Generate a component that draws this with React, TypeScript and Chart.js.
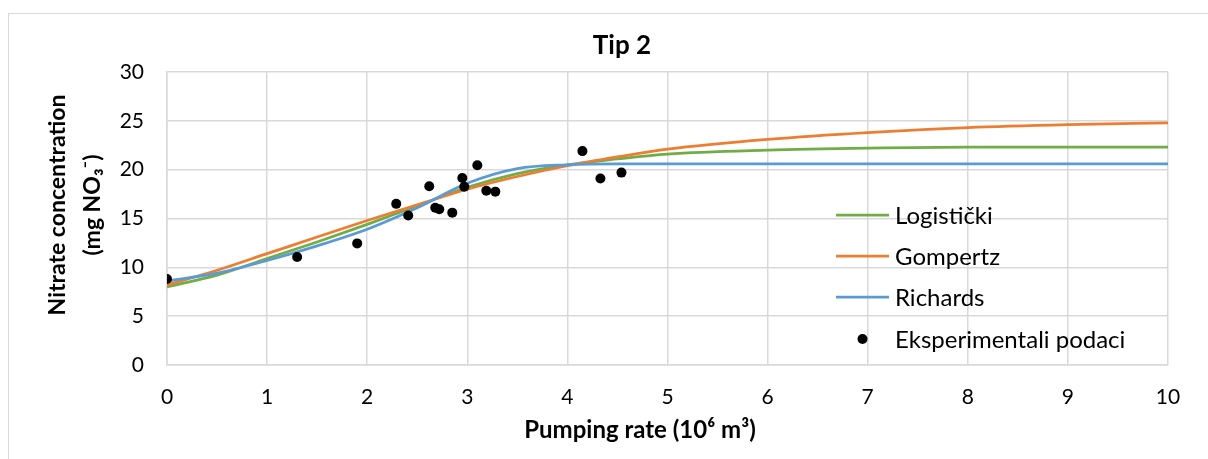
import React, { useEffect, useRef } from "react";
import { Chart, registerables } from "chart.js";

Chart.register(...registerables);

const chartTitle = "Tip 2";
const xAxisTitle = "Pumping rate (10\u2076 m\u00B3)";
const yAxisTitleLines = ["Nitrate concentration", "(mg NO\u2083\u207B)"];

const seriesNames = ["Logistički", "Gompertz", "Richards", "Eksperimentali podaci"];

const fitX = [0, 0.5, 1, 1.5, 2, 2.5, 3, 3.5, 4, 4.5, 5, 6, 7, 8, 9, 10];
const logistic = [8.0, 9.2, 10.9, 12.6, 14.4, 16.3, 18.2, 19.6, 20.5, 21.1, 21.6, 22.0, 22.2, 22.3, 22.3, 22.3];
const gompertz = [8.2, 9.7, 11.4, 13.1, 14.8, 16.4, 18.0, 19.3, 20.4, 21.3, 22.1, 23.1, 23.8, 24.3, 24.6, 24.8];
const richards = [8.6, 9.4, 10.7, 12.2, 13.9, 16.1, 18.6, 20.1, 20.5, 20.6, 20.6, 20.6, 20.6, 20.6, 20.6, 20.6];

const expX = [0, 1.3, 1.9, 2.29, 2.41, 2.62, 2.68, 2.72, 2.85, 2.95, 2.97, 3.1, 3.19, 3.28, 4.15, 4.33, 4.54];
const expY = [8.8, 11.05, 12.45, 16.5, 15.3, 18.3, 16.1, 15.95, 15.6, 19.15, 18.25, 20.45, 17.85, 17.75, 21.9, 19.1, 19.7];

const xTicks = [0, 1, 2, 3, 4, 5, 6, 7, 8, 9, 10];
const yTicks = [0, 5, 10, 15, 20, 25, 30];

const colors = ["#70AD47", "#ED7D31", "#5B9BD5", "#000000"];
const FONT = "Lato, 'Noto Sans', sans-serif";

export default function App() {
  const ref = useRef<HTMLCanvasElement | null>(null);

  useEffect(() => {
    const canvas = ref.current;
    if (!canvas) return;

    const textPlugin = {
      id: "customText",
      afterDraw(chart: any) {
        const ctx = chart.ctx as CanvasRenderingContext2D;
        ctx.save();
        ctx.fillStyle = "#000";
        // title
        ctx.font = `bold 26px ${FONT}`;
        ctx.textAlign = "center";
        ctx.textBaseline = "middle";
        ctx.fillText(chartTitle, 622, 46);
        // x axis title
        ctx.font = `bold 24px ${FONT}`;
        ctx.fillText(xAxisTitle, 640, 430);
        // y axis title
        ctx.font = `bold 23px ${FONT}`;
        ctx.save();
        ctx.translate(58, 205);
        ctx.rotate(-Math.PI / 2);
        ctx.fillText(yAxisTitleLines[0], 0, 0);
        ctx.fillText(yAxisTitleLines[1], 0, 35);
        ctx.restore();
        // legend
        const lx0 = 836, lx1 = 889, tx = 895;
        const ly = [215, 256, 297, 339];
        ctx.font = `24px ${FONT}`;
        ctx.textAlign = "left";
        for (let i = 0; i < 4; i++) {
          if (i < 3) {
            ctx.strokeStyle = colors[i];
            ctx.lineWidth = 2.75;
            ctx.beginPath();
            ctx.moveTo(lx0, ly[i]);
            ctx.lineTo(lx1, ly[i]);
            ctx.stroke();
          } else {
            ctx.fillStyle = "#000";
            ctx.beginPath();
            ctx.arc((lx0 + lx1) / 2, ly[i], 5, 0, Math.PI * 2);
            ctx.fill();
          }
          ctx.fillStyle = "#000";
          ctx.fillText(seriesNames[i], tx, ly[i] + 1);
        }
        ctx.restore();
      },
    };

    const lineDs = (i: number, ys: number[]) => ({
      label: seriesNames[i],
      data: fitX.map((x, k) => ({ x, y: ys[k] })),
      showLine: true,
      borderColor: colors[i],
      backgroundColor: colors[i],
      borderWidth: 2.75,
      pointRadius: 0,
      pointHoverRadius: 0,
      cubicInterpolationMode: "monotone" as const,
      fill: false,
      order: 3 - i + 1,
    });

    const chart = new Chart(canvas, {
      type: "scatter",
      data: {
        datasets: [
          lineDs(0, logistic),
          lineDs(1, gompertz),
          lineDs(2, richards),
          {
            label: seriesNames[3],
            data: expX.map((x, k) => ({ x, y: expY[k] })),
            showLine: false,
            backgroundColor: "#000",
            borderColor: "#000",
            borderWidth: 0,
            pointRadius: 5,
            pointHoverRadius: 5,
            order: 0,
          },
        ],
      },
      options: {
        responsive: false,
        animation: false,
        devicePixelRatio: 1,
        layout: { padding: { left: 0, right: 40, top: 72, bottom: 0 } },
        plugins: {
          legend: { display: false },
          title: { display: false },
          tooltip: { enabled: false },
        },
        scales: {
          x: {
            type: "linear",
            min: 0,
            max: 10,
            afterFit: (s: any) => {
              s.height = 94;
            },
            afterBuildTicks: (s: any) => {
              s.ticks = xTicks.map((v) => ({ value: v }));
            },
            ticks: {
              padding: 20,
              color: "#000",
              font: { family: FONT, size: 21 },
            },
            grid: { color: "#D9D9D9", lineWidth: 1.5, drawTicks: false },
            border: { color: "#D9D9D9", width: 1.5 },
          },
          y: {
            type: "linear",
            min: 0,
            max: 30,
            afterFit: (s: any) => {
              s.width = 167;
            },
            afterBuildTicks: (s: any) => {
              s.ticks = yTicks.map((v) => ({ value: v }));
            },
            ticks: {
              padding: 23,
              color: "#000",
              font: { family: FONT, size: 21 },
            },
            grid: { color: "#D9D9D9", lineWidth: 1.5, drawTicks: false },
            border: { color: "#D9D9D9", width: 1.5 },
          },
        },
      },
      plugins: [textPlugin],
    });

    return () => chart.destroy();
  }, []);

  return (
    <div
      style={{
        position: "fixed",
        left: 0,
        top: 0,
        width: 1208,
        height: 459,
        overflow: "hidden",
        background: "#fff",
      }}
    >
      <div
        style={{
          position: "absolute",
          left: 8,
          top: 13,
          width: 1300,
          height: 600,
          border: "1px solid #D9D9D9",
          boxSizing: "border-box",
        }}
      />
      <canvas ref={ref} width={1208} height={459} style={{ position: "absolute", left: 0, top: 0, display: "block" }} />
    </div>
  );
}
